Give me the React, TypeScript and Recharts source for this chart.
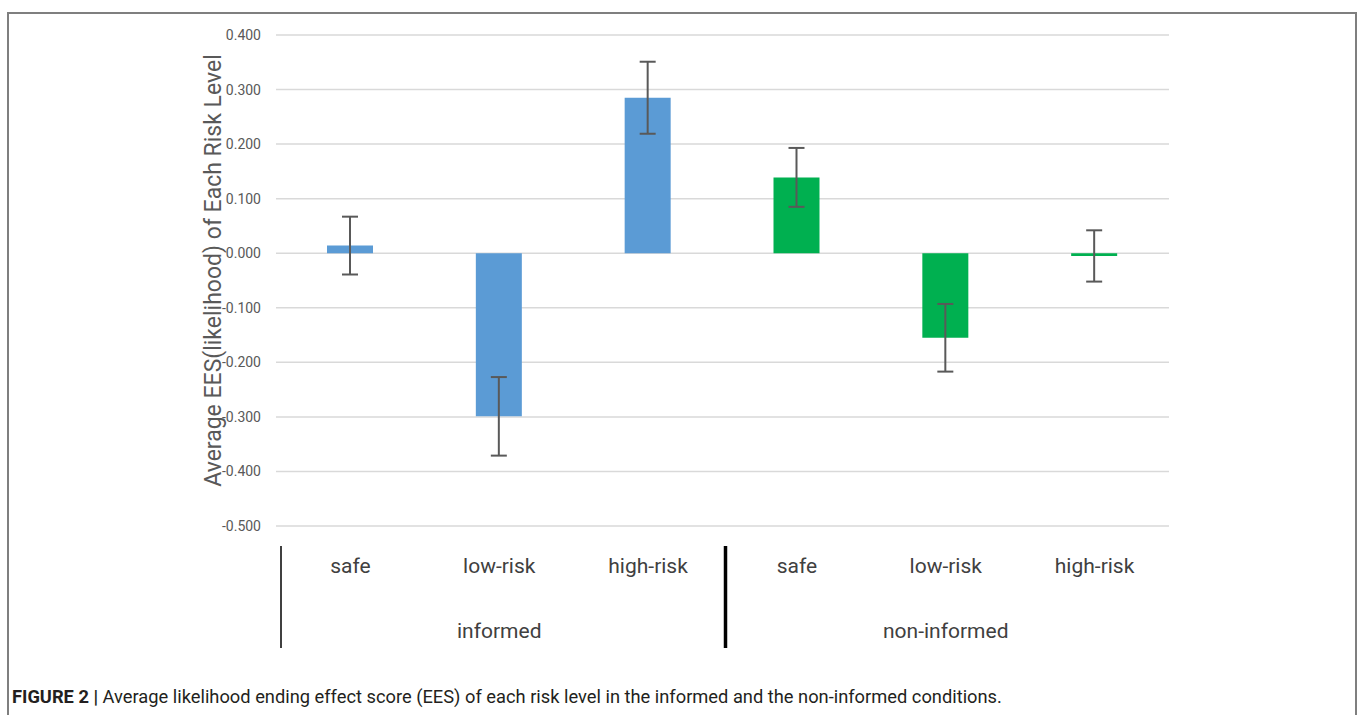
import React from "react";
import { BarChart, Bar, XAxis, YAxis, CartesianGrid, ErrorBar, Cell } from "recharts";

const groups = ["informed", "informed", "informed", "non-informed", "non-informed", "non-informed"];
const riskLevels = ["safe", "low-risk", "high-risk", "safe", "low-risk", "high-risk"];
const meanEES = [0.014, -0.299, 0.285, 0.139, -0.155, -0.005];
const errEES = [0.053, 0.072, 0.066, 0.054, 0.062, 0.047];
const yTicks = [0.4, 0.3, 0.2, 0.1, 0, -0.1, -0.2, -0.3, -0.4, -0.5];

const data = riskLevels.map((risk, i) => ({
  key: i,
  risk,
  group: groups[i],
  ees: meanEES[i],
  err: errEES[i],
}));

const groupColor: Record<string, string> = {
  informed: "#5b9bd5",
  "non-informed": "#00b050",
};

const W = 1357;
const H = 715;
const PLOT_LEFT = 276;
const PLOT_RIGHT = 1169;
const band = (PLOT_RIGHT - PLOT_LEFT) / data.length;
const labelFont = "Roboto, 'Noto Sans', sans-serif";

function CategoryTick(props: any) {
  const { x, y, index } = props;
  const d = data[index];
  const left = x - band / 2;
  const firstOfGroup = index === 0 || data[index - 1].group !== d.group;
  const middleOfGroup =
    index > 0 && index < data.length - 1 && data[index - 1].group === d.group && data[index + 1].group === d.group;
  return (
    <g>
      <text x={x} y={y + 47} textAnchor="middle" fontSize={21} fill="#404040" fontFamily={labelFont}>
        {d.risk}
      </text>
      {middleOfGroup && (
        <text x={x} y={y + 112} textAnchor="middle" fontSize={21} fill="#404040" fontFamily={labelFont}>
          {d.group}
        </text>
      )}
      {firstOfGroup && (
        <line
          x1={index === 0 ? left + 5 : left + 3}
          x2={index === 0 ? left + 5 : left + 3}
          y1={y + 20}
          y2={y + 122}
          stroke="#000"
          strokeWidth={index === 0 ? 1.5 : 3.5}
        />
      )}
    </g>
  );
}

function YTitle(props: any) {
  const { viewBox } = props;
  const cx = viewBox.x + viewBox.width - 63;
  const cy = viewBox.y + viewBox.height / 2 - 10;
  return (
    <text
      x={cx}
      y={cy}
      transform={`rotate(-90, ${cx}, ${cy})`}
      textAnchor="middle"
      dominantBaseline="central"
      fontSize={23}
      fill="#595959"
      fontFamily={labelFont}
    >
      Average EES(likelihood)  of Each Risk Level
    </text>
  );
}

export default function App() {
  return (
    <div style={{ position: "absolute", left: 0, top: 0, width: W, height: H, background: "#fff", overflow: "hidden" }}>
      <div
        style={{
          position: "absolute",
          left: 7,
          top: 12,
          width: 1346,
          height: 720,
          borderTop: "2px solid #7f7f7f",
          borderLeft: "2px solid #7f7f7f",
          borderRight: "2px solid #7f7f7f",
        }}
      />
      <div style={{ position: "absolute", left: 0, top: 0 }}>
        <BarChart width={W} height={H} data={data} margin={{ top: 35, right: W - PLOT_RIGHT, bottom: 39, left: 0 }} barSize={46}>
          <CartesianGrid vertical={false} stroke="#d9d9d9" strokeWidth={1.5} />
          <XAxis
            dataKey="key"
            height={150}
            axisLine={false}
            tickLine={false}
            tickSize={0}
            tickMargin={0}
            interval={0}
            tick={<CategoryTick />}
          />
          <YAxis
            width={PLOT_LEFT}
            domain={[-0.5, 0.4]}
            ticks={yTicks}
            interval={0}
            axisLine={false}
            tickLine={false}
            tickSize={8}
            tickMargin={7}
            tickFormatter={(v: number) => v.toFixed(3)}
            tick={{ fontSize: 14, fill: "#595959", fontFamily: labelFont }}
            label={<YTitle />}
          />
          <Bar dataKey="ees" isAnimationActive={false}>
            {data.map((d) => (
              <Cell key={d.key} fill={groupColor[d.group]} />
            ))}
            <ErrorBar dataKey="err" direction="y" width={8} stroke="#595959" strokeWidth={2} />
          </Bar>
        </BarChart>
      </div>
      <div
        style={{
          position: "absolute",
          left: 12,
          top: 686,
          fontFamily: "Roboto, sans-serif",
          fontSize: 18.3,
          color: "#231f20",
          whiteSpace: "nowrap",
        }}
      >
        <b>FIGURE 2 |</b> Average likelihood ending effect score (EES) of each risk level in the informed and the non-informed conditions.
      </div>
    </div>
  );
}
